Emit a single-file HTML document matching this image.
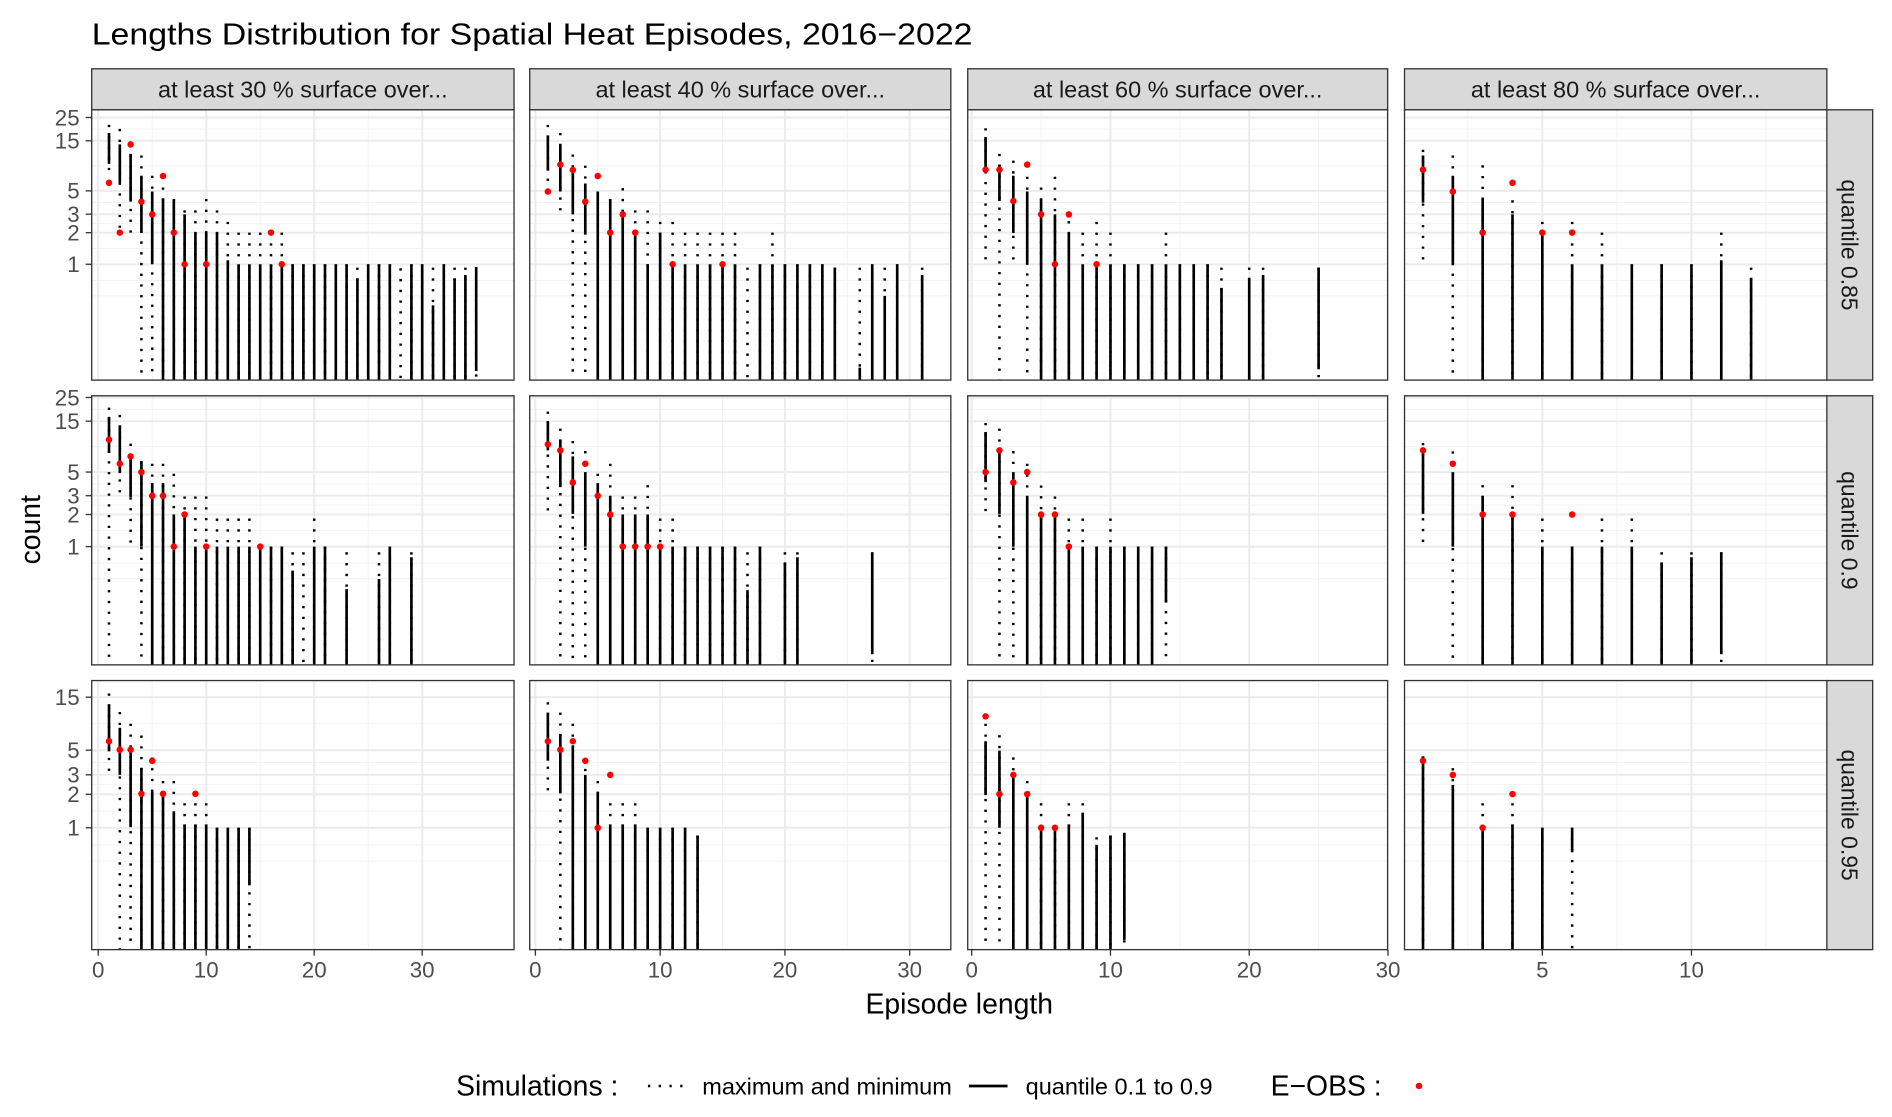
<!DOCTYPE html>
<html><head><meta charset="utf-8"><style>
html,body{margin:0;padding:0;background:#fff;}
svg{display:block;}
text{font-family:"Liberation Sans",Arial,sans-serif;}
</style></head><body>
<svg id="s" width="1892" height="1117" viewBox="0 0 1568 925.7" preserveAspectRatio="none" xmlns="http://www.w3.org/2000/svg"></svg>
<script>
const rows=[{Y1:219,Z1:478,k:0.279,top:91,bot:315,D:87,ticks:[25,15,5,3,2,1],lab:"quantile 0.85"},
{Y1:453,Z1:468,k:0.277,top:328,bot:551,D:88.4,ticks:[25,15,5,3,2,1],lab:"quantile 0.9"},
{Y1:686,Z1:457,k:0.279,top:564,bot:787,D:92,ticks:[15,5,3,2,1],lab:"quantile 0.95"}];
const cols=[{l:76,r:426,x0:81.4,dx:8.95,br:[0,10,20,30],mn:[5,15,25],lab:"at least 30 % surface over..."},
{l:439,r:788,x0:443.7,dx:10.34,br:[0,10,20,30],mn:[5,15,25],lab:"at least 40 % surface over..."},
{l:802,r:1150,x0:805.3,dx:11.5,br:[0,10,20,30],mn:[5,15,25],lab:"at least 60 % surface over..."},
{l:1164,r:1514,x0:1154.6,dx:24.72,br:[5,10],mn:[2.5,7.5,12.5],lab:"at least 80 % surface over..."}];
function r(a,b,c){const o=[];for(let i=a;i<=b;i++)o.push([i,c[0],c[1]]);return o;}
const D=[[
[[1,64,88,180,200,236],[2,76,122,236,384,384],[3,122,150,292,384,122],[4,155,215,384,822,292],[5,215,262,478,822,330],[6,250,284,822,822,216],[7,284,284,822,822,384],[8,318,330,822,822,478],[9,318,384],[10,284,384,822,822,478],[11,318,384],[12,352,466],[13,384,478],[14,384,478],[15,384,478],[16,384,478,822,822,384],[17,384,478,822,822,478],...r(18,23,[478,478]),[24,488,520],[25,478,478],[26,478,478],[27,478,478],[28,490,null],[29,478,478],[30,478,478],[31,488,600],[32,478,478],[33,488,520],[34,488,510],[35,486,486,795,822]],
[[1,64,95,200,262,262],[2,88,125,262,326,182],[3,152,200,330,822,198],[4,185,238,390,822,292],[5,262,262,822,822,216],[6,284,284,822,822,384],[7,252,330,822,822,330],[8,318,384,822,822,384],[9,318,478],[10,352,384],[11,352,478,822,822,478],[12,384,478],[13,384,478],[14,384,478],[15,384,478,822,822,478],[16,384,478],[17,488,null],[18,478,478],[19,384,478],[20,478,478],[21,478,478],[22,478,478],[23,478,478],[24,488,488],[26,488,785],[27,478,478],[28,488,572],[29,478,478],[31,488,510]],
[[1,74,100,200,478,197],[2,150,182,290,822,197],[3,170,215,385,478,290],[4,218,262,478,822,182],[5,250,284,822,822,330],[6,218,330,822,822,478],[7,350,384,822,822,330],[8,384,478],[9,352,478,822,822,478],[10,384,478],[11,478,478],[12,478,478],[13,478,478],[14,384,478],[15,478,478],[16,478,478],[17,478,478],[18,488,548],[20,488,518],[21,488,510],[25,488,488,790,822]],
[[1,138,155,295,478,197],[2,155,215,478,822,262],[3,184,284,822,822,384],[4,288,330,822,822,236],[5,352,384,822,822,384],[6,352,478,822,822,384],[7,384,478],[8,478,478],[9,478,478],[10,478,478],[11,384,466],[12,488,518]]
],[
[[1,52,80,188,822,148],[2,74,105,248,312,220],[3,160,195,320,465,198],[4,212,215,468,822,245],[5,220,278,822,822,316],[6,220,278,822,822,316],[7,250,372,822,822,468],[8,318,372,822,822,372],[9,318,468],[10,318,468,822,822,468],[11,384,468],[12,384,468],[13,384,468],[14,384,468],[15,468,468,822,822,468],[16,468,468],[17,468,468],[18,485,540],[19,485,null],[20,384,468],[21,468,468],[23,485,595],[26,485,565],[27,468,468],[29,485,500]],
[[1,64,92,180,370,162],[2,115,148,290,822,180],[3,152,198,370,822,276],[4,182,245,468,822,220],[5,250,278,822,822,316],[6,220,316,822,822,372],[7,318,372,822,822,468],[8,318,372,822,822,468],[9,284,372,822,822,468],[10,384,468,822,822,468],[11,384,468],[12,468,468],[13,468,468],[14,468,468],[15,468,468],[16,468,468],[17,485,598],[18,468,468],[20,485,515],[21,485,500],[27,485,485,790,822]],
[[1,98,125,275,370,245],[2,115,180,370,822,180],[3,182,245,468,822,276],[4,220,316,822,822,245],[5,285,372,822,822,372],[6,318,372,822,822,372],[7,384,468,822,822,468],[8,384,468],[9,468,468],[10,384,468],[11,468,468],[12,468,468],[13,468,468],[14,468,468,635,822]],
[[1,158,180,370,468,180],[2,183,245,468,822,220],[3,284,316,822,822,372],[4,284,372,822,822,372],[5,384,468],[6,468,468,822,822,372],[7,384,468],[8,384,468],[9,485,515],[10,485,500],[11,485,485,790,822]]
],[
[[1,58,92,230,296,200],[2,113,160,300,822,225],[3,148,215,455,822,225],[4,183,280,822,822,356],[5,248,350,822,822,258],[6,318,356,822,822,356],[7,318,408],[8,384,447],[9,384,447,822,822,356],[10,384,447],[11,457,457],[12,457,457],[13,457,457],[14,457,457,628,822]],
[[1,84,115,258,355,200],[2,115,178,355,822,225],[3,148,215,822,822,200],[4,250,300,822,822,258],[5,318,350,822,822,457],[6,384,447,822,822,300],[7,384,447],[8,384,447],[9,457,457],[10,457,457],[11,457,457],[12,457,457],[13,480,480]],
[[1,148,200,360,822,126],[2,182,228,457,822,357],[3,248,300,822,822,300],[4,318,357,822,822,357],[5,384,457,822,822,457],[6,457,457,822,822,457],[7,384,447],[8,384,412],[9,485,508],[10,480,480],[11,472,472,790,822]],
[[1,245,245,822,822,258],[2,280,330,822,822,300],[3,384,457,822,822,457],[4,384,447,822,822,357],[5,457,457],[6,457,457,530,822]]
]];
let h='';
h+='<text x="76" y="37" font-size="25" fill="#000" textLength="730" lengthAdjust="spacingAndGlyphs">Lengths Distribution for Spatial Heat Episodes, 2016−2022</text>';
h+='<defs>';
rows.forEach((R,ri)=>cols.forEach((C,ci)=>{h+=`<clipPath id="c${ri}${ci}"><rect x="${C.l}" y="${R.top}" width="${C.r-C.l}" height="${R.bot-R.top}"/></clipPath>`;}));
h+='</defs>';
cols.forEach(C=>{h+=`<rect x="${C.l}" y="57" width="${C.r-C.l}" height="34" fill="#d9d9d9" stroke="#333" stroke-width="1.1"/><text x="${(C.l+C.r)/2}" y="81" font-size="19" fill="#1a1a1a" text-anchor="middle" textLength="240" lengthAdjust="spacingAndGlyphs">${C.lab}</text>`;});
rows.forEach(R=>{const cy=(R.top+R.bot)/2;h+=`<rect x="1514" y="${R.top}" width="38" height="${R.bot-R.top}" fill="#d9d9d9" stroke="#333" stroke-width="1.1"/><text transform="translate(1526,${cy}) rotate(90)" font-size="19" fill="#1a1a1a" text-anchor="middle">${R.lab}</text>`;});
const yv=(R,v)=>R.Y1-R.D*Math.log10(v);
const zy=(R,z)=>z>=822?R.bot:R.Y1+(z-R.Z1)*R.k;
rows.forEach((R,ri)=>{
 R.ticks.forEach(v=>{const y=yv(R,v);h+=`<line x1="71" x2="76" y1="${y}" y2="${y}" stroke="#333" stroke-width="1.1"/><text x="66" y="${y+6.5}" font-size="18.5" fill="#4d4d4d" text-anchor="end">${v}</text>`;});
 cols.forEach((C,ci)=>{
  h+=`<rect x="${C.l}" y="${R.top}" width="${C.r-C.l}" height="${R.bot-R.top}" fill="#fff"/>`;
  h+=`<g clip-path="url(#c${ri}${ci})">`;
  const all=R.ticks.slice();const minors=[];
  for(let i=0;i<all.length-1;i++)minors.push(Math.sqrt(all[i]*all[i+1]));
  minors.push(0.7,0.5);
  if(ri==2)minors.push(Math.sqrt(15*40),40);
  minors.forEach(v=>{const y=yv(R,v);h+=`<line x1="${C.l}" x2="${C.r}" y1="${y}" y2="${y}" stroke="#f2f2f2" stroke-width="0.8"/>`;});
  C.mn.forEach(v=>{const x=C.x0+v*C.dx;h+=`<line x1="${x}" x2="${x}" y1="${R.top}" y2="${R.bot}" stroke="#f2f2f2" stroke-width="0.8"/>`;});
  R.ticks.forEach(v=>{const y=yv(R,v);h+=`<line x1="${C.l}" x2="${C.r}" y1="${y}" y2="${y}" stroke="#ebebeb" stroke-width="1.6"/>`;});
  C.br.concat(ci<3?[]:[0]).forEach(v=>{const x=C.x0+v*C.dx;h+=`<line x1="${x}" x2="${x}" y1="${R.top}" y2="${R.bot}" stroke="#ebebeb" stroke-width="1.6"/>`;});
  D[ri][ci].forEach(e=>{
   const [x,dT,sT,sB=822,dB=822,ob=0]=e;const px=C.x0+x*C.dx;
   const y1=zy(R,dT),y2=zy(R,dB);
   h+=`<line x1="${px}" x2="${px}" y1="${y1}" y2="${y2}" stroke="#000" stroke-width="2.1" stroke-dasharray="1.9 7"/>`;
   if(sT!==null)h+=`<line x1="${px}" x2="${px}" y1="${zy(R,sT)}" y2="${zy(R,sB)}" stroke="#000" stroke-width="2.2"/>`;
   if(ob)h+=`<circle cx="${px}" cy="${zy(R,ob)}" r="2.7" fill="#ff0000"/>`;
  });
  h+='</g>';
  h+=`<rect x="${C.l}" y="${R.top}" width="${C.r-C.l}" height="${R.bot-R.top}" fill="none" stroke="#333" stroke-width="1.1"/>`;
 });
});
cols.forEach(C=>{C.br.forEach(v=>{const x=C.x0+v*C.dx;h+=`<line x1="${x}" x2="${x}" y1="787" y2="792" stroke="#333" stroke-width="1.1"/><text x="${x}" y="810" font-size="18.5" fill="#4d4d4d" text-anchor="middle">${v}</text>`;});});
h+='<text x="795" y="840" font-size="23.5" fill="#000" text-anchor="middle">Episode length</text>';
h+='<text transform="translate(33,439) rotate(-90)" font-size="23.5" fill="#000" text-anchor="middle">count</text>';
h+='<text x="378" y="908" font-size="23.5" fill="#000">Simulations :</text>';
h+='<line x1="537" x2="569" y1="900" y2="900" stroke="#000" stroke-width="2.1" stroke-dasharray="1.9 7"/>';
h+='<text x="582" y="907" font-size="19.5" fill="#000">maximum and minimum</text>';
h+='<line x1="803" x2="835" y1="900" y2="900" stroke="#000" stroke-width="2.2"/>';
h+='<text x="850" y="907" font-size="19.5" fill="#000">quantile 0.1 to 0.9</text>';
h+='<text x="1053" y="908" font-size="23.5" fill="#000">E−OBS :</text>';
h+='<circle cx="1176" cy="900" r="2.7" fill="#ff0000"/>';
document.getElementById('s').innerHTML=h;
</script>
</body></html>
